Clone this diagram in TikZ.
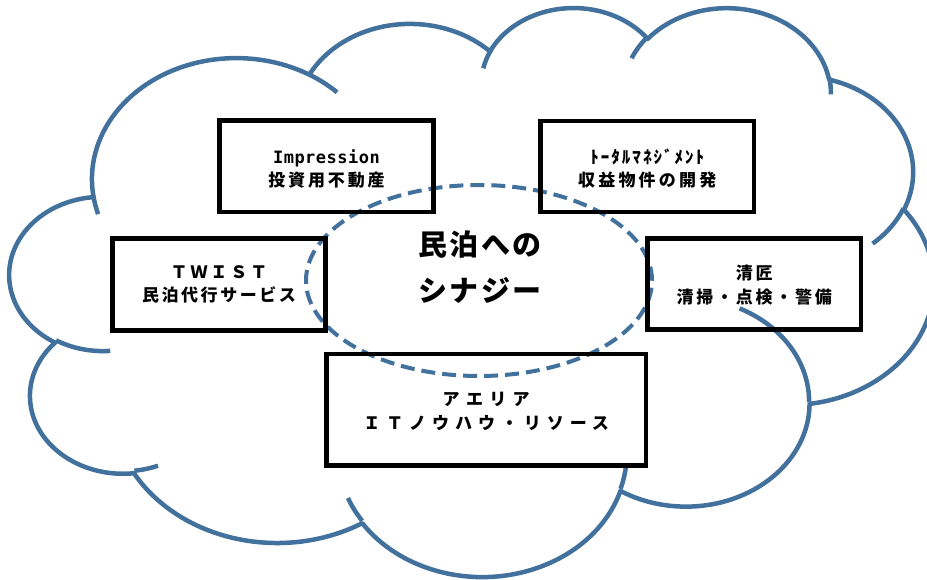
\documentclass[tikz,border=0pt]{standalone}
\usepackage{fontspec}
\setmainfont{Noto Sans CJK JP}
\newfontfamily\jp{Noto Sans CJK JP}
\newfontfamily\monofnt{DejaVu Sans Mono}
\usetikzlibrary{shapes.geometric}
\definecolor{cloudblue}{HTML}{41719C}
% OOXML-style arc: radii a,b ; geometric start angle, sweep
\newcommand\cldarc[4]{arc[start angle={atan2((#1)*sin(#3),(#2)*cos(#3))}, delta angle={mod(atan2((#1)*sin((#3)+(#4)),(#2)*cos((#3)+(#4)))-atan2((#1)*sin(#3),(#2)*cos(#3))+720,360)}, x radius=#1, y radius=#2]}
\newcommand\ls[1]{\addfontfeature{LetterSpace=#1}}
\begin{document}
\begin{tikzpicture}[x=1pt,y=-1pt,
  cloudline/.style={draw=cloudblue, line width=4.5pt, line join=round},
  box/.style={draw=black, line width=4.5pt, rectangle, inner sep=0pt},
  boxtext/.style={inner sep=0pt, align=center,
    font=\jp\bfseries\fontsize{17pt}{23.5pt}\selectfont},
  synell/.style={ellipse, draw=cloudblue, line width=4pt, dash pattern=on 14pt off 7pt,
    minimum width=346pt, minimum height=191pt, inner sep=0pt},
  syntext/.style={font=\jp\bfseries\fontsize{29pt}{46pt}\selectfont, align=center, inner sep=0pt}]
\useasboundingbox (0,0) rectangle (927,580);
\clip (0,0) rectangle (927,580);
% cloud
\begin{scope}[shift={(9.9,6.2)}, x=2.138pt, y=-1.3167pt]
\draw[cloudline] (39.00,143.70)
 \cldarc{67.53}{91.90}{-190.4875}{123.7805}
 \cldarc{53.33}{72.67}{-144.1024}{89.9452}
 \cldarc{43.65}{59.45}{-145.8079}{99.7230}
 \cldarc{48.57}{65.95}{-130.9861}{117.2417}
 \cldarc{53.33}{72.73}{-78.7089}{109.0269}
 \cldarc{67.75}{92.20}{-46.2673}{130.2690}
 \cldarc{57.85}{78.67}{0.6250}{114.0333}
 \cldarc{67.52}{92.15}{22.4516}{115.1726}
 \cldarc{77.20}{105.43}{66.2426}{75.7110}
 \cldarc{43.60}{59.18}{-274.9421}{146.7356}
 \cldarc{43.45}{59.45}{-246.8285}{152.5189}
 -- cycle;
\draw[cloudline] (46.93,261.77) \cldarc{43.45}{59.45}{86.742}{26.4295};
\draw[cloudline] (69.28,348.99) \cldarc{43.60}{59.18}{73.6105}{11.4475};
\draw[cloudline] (164.78,390.90) \cldarc{67.52}{92.15}{137.6242}{14.0811};
\draw[cloudline] (288.27,347.51) \cldarc{67.52}{92.15}{6.4533}{15.9984};
\draw[cloudline] (341.29,229.54) \cldarc{57.85}{78.67}{-70.2924}{70.9174};
\draw[cloudline] (417.98,153.54) \cldarc{53.33}{72.73}{30.3180}{27.7515};
\draw[cloudline] (383.24,54.26) \cldarc{48.57}{65.95}{-13.7443}{14.8589};
\draw[cloudline] (290.78,39.52) \cldarc{48.57}{65.95}{-149.1815}{18.1954};
\draw[cloudline] (221.41,47.20) \cldarc{43.65}{59.45}{-163.4943}{17.6864};
\draw[cloudline] (140.00,51.92) \cldarc{67.53}{91.90}{-66.7070}{12.3194};
\draw[cloudline] (41.27,157.89) \cldarc{67.53}{91.90}{157.6544}{11.8582};
\end{scope}
% synergy ellipse
\node[synell] (syn) at (479,280.5) {};
% boxes
\node[box, minimum width=214pt, minimum height=91.5pt] (imp) at (326.5,166.25) {};
\node[box, minimum width=213.5pt, minimum height=91pt] (tot) at (647.25,166.5) {};
\node[box, minimum width=213pt, minimum height=91.6pt] (twi) at (219,284.5) {};
\node[box, minimum width=213.5pt, minimum height=90.8pt] (sei) at (754.25,284.1) {};
\node[box, minimum width=319.3pt, minimum height=111.7pt] (aer) at (486.15,409.65) {};
% box texts
\node[boxtext, yshift=-2.5pt] (imptxt) at (imp.center)
  {{\monofnt\ls{3}Impression}\\{\ls{17}投資用不動産}};
\node[boxtext, yshift=-2pt] (tottxt) at (tot.center)
  {{\ls{12}ﾄｰﾀﾙﾏﾈｼﾞﾒﾝﾄ}\\{\ls{19}収益物件の開発}};
\node[boxtext] (twitxt) at (twi.center)
  {{\ls{17}ＴＷＩＳＴ}\\{\ls{15}民泊代行サービス}};
\node[boxtext, yshift=-1pt] (seitxt) at (sei.center)
  {{\ls{16}清匠}\\{\ls{16}清掃・点検・警備}};
\node[boxtext, yshift=-2pt] (aertxt) at (aer.center)
  {{\ls{37}アエリア}\\{\ls{35}ＩＴノウハウ・リソース}};
% centre text
\node[syntext] (syntxt) at (480,267) {{\ls{8}民泊への}\\{\ls{8}シナジー}};
\end{tikzpicture}
\end{document}
